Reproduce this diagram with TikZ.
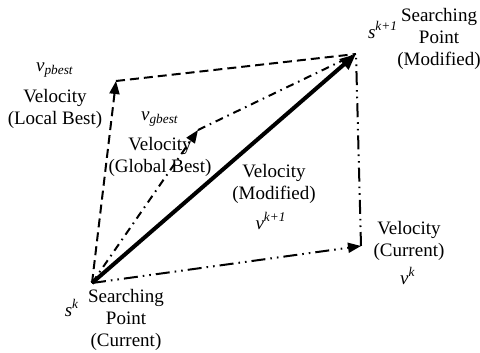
\documentclass[tikz,border=0pt]{standalone}
\usepackage{fontspec}
\setmainfont{Liberation Serif}
\usepackage{tikz}
\usetikzlibrary{arrows.meta,positioning}

\begin{document}
\begin{tikzpicture}[x=0.5pt,y=-0.5pt,
  every node/.style={font=\fontsize{9.5}{11}\selectfont,align=center,inner sep=0pt},
  vec/.style={line width=1pt},
  tip/.style={-{Triangle[length=6.5pt,width=5pt]}},
  pbest/.style={vec,dash pattern=on 4.5pt off 2.5pt},
  gbest/.style={vec,dash pattern=on 4pt off 2.5pt on 0.8pt off 2.5pt},
  curr/.style={vec,dash pattern=on 7pt off 2.5pt on 0.8pt off 2.5pt on 0.8pt off 2.5pt},
  modif/.style={line width=2pt,-{Triangle[length=8pt,width=6.5pt]}}
]
\useasboundingbox (0,0) rectangle (480,352);
% points of the search
\coordinate (sk) at (92,283);
\coordinate (sk1) at (356,54);
\coordinate (pb) at (116,81);
\coordinate (gb) at (198,130);
\coordinate (vc) at (361,246);
% velocity vectors
\draw[pbest,tip] (sk)--(pb); \draw[pbest] (pb)--(sk1);
\draw[gbest,tip] (sk)--(gb); \draw[gbest] (gb)--(sk1);
\draw[curr,tip] (sk)--(vc); \draw[curr] (vc)--(sk1);
\draw[modif] (sk)--(sk1);
% labels
\node (vpb) at (55,70) {\textit{v}\textsubscript{\textit{pbest}}};
\node (lbl) at (55,109) {Velocity\\(Local Best)};
\node (vgb) at (160,119) {\textit{v}\textsubscript{\textit{gbest}}};
\node (gbl) at (160,157) {Velocity\\(Global Best)};
\node (mdl) at (274,184) {Velocity\\(Modified)};
\node (vk1) at (271,221) {\textit{v}\textsuperscript{\textit{k+1}}};
\node (cul) at (409,241) {Velocity\\(Current)};
\node (vk) at (408,276) {\textit{v}\textsuperscript{\textit{k}}};
\node (sk1l) at (383,30) {\textit{s}\textsuperscript{\textit{k+1}}};
\node (spm) at (439,39) {Searching\\Point\\(Modified)};
\node (skl) at (72,308) {\textit{s}\textsuperscript{\textit{k}}};
\node (spc) at (126,320) {Searching\\Point\\(Current)};
\end{tikzpicture}
\end{document}
